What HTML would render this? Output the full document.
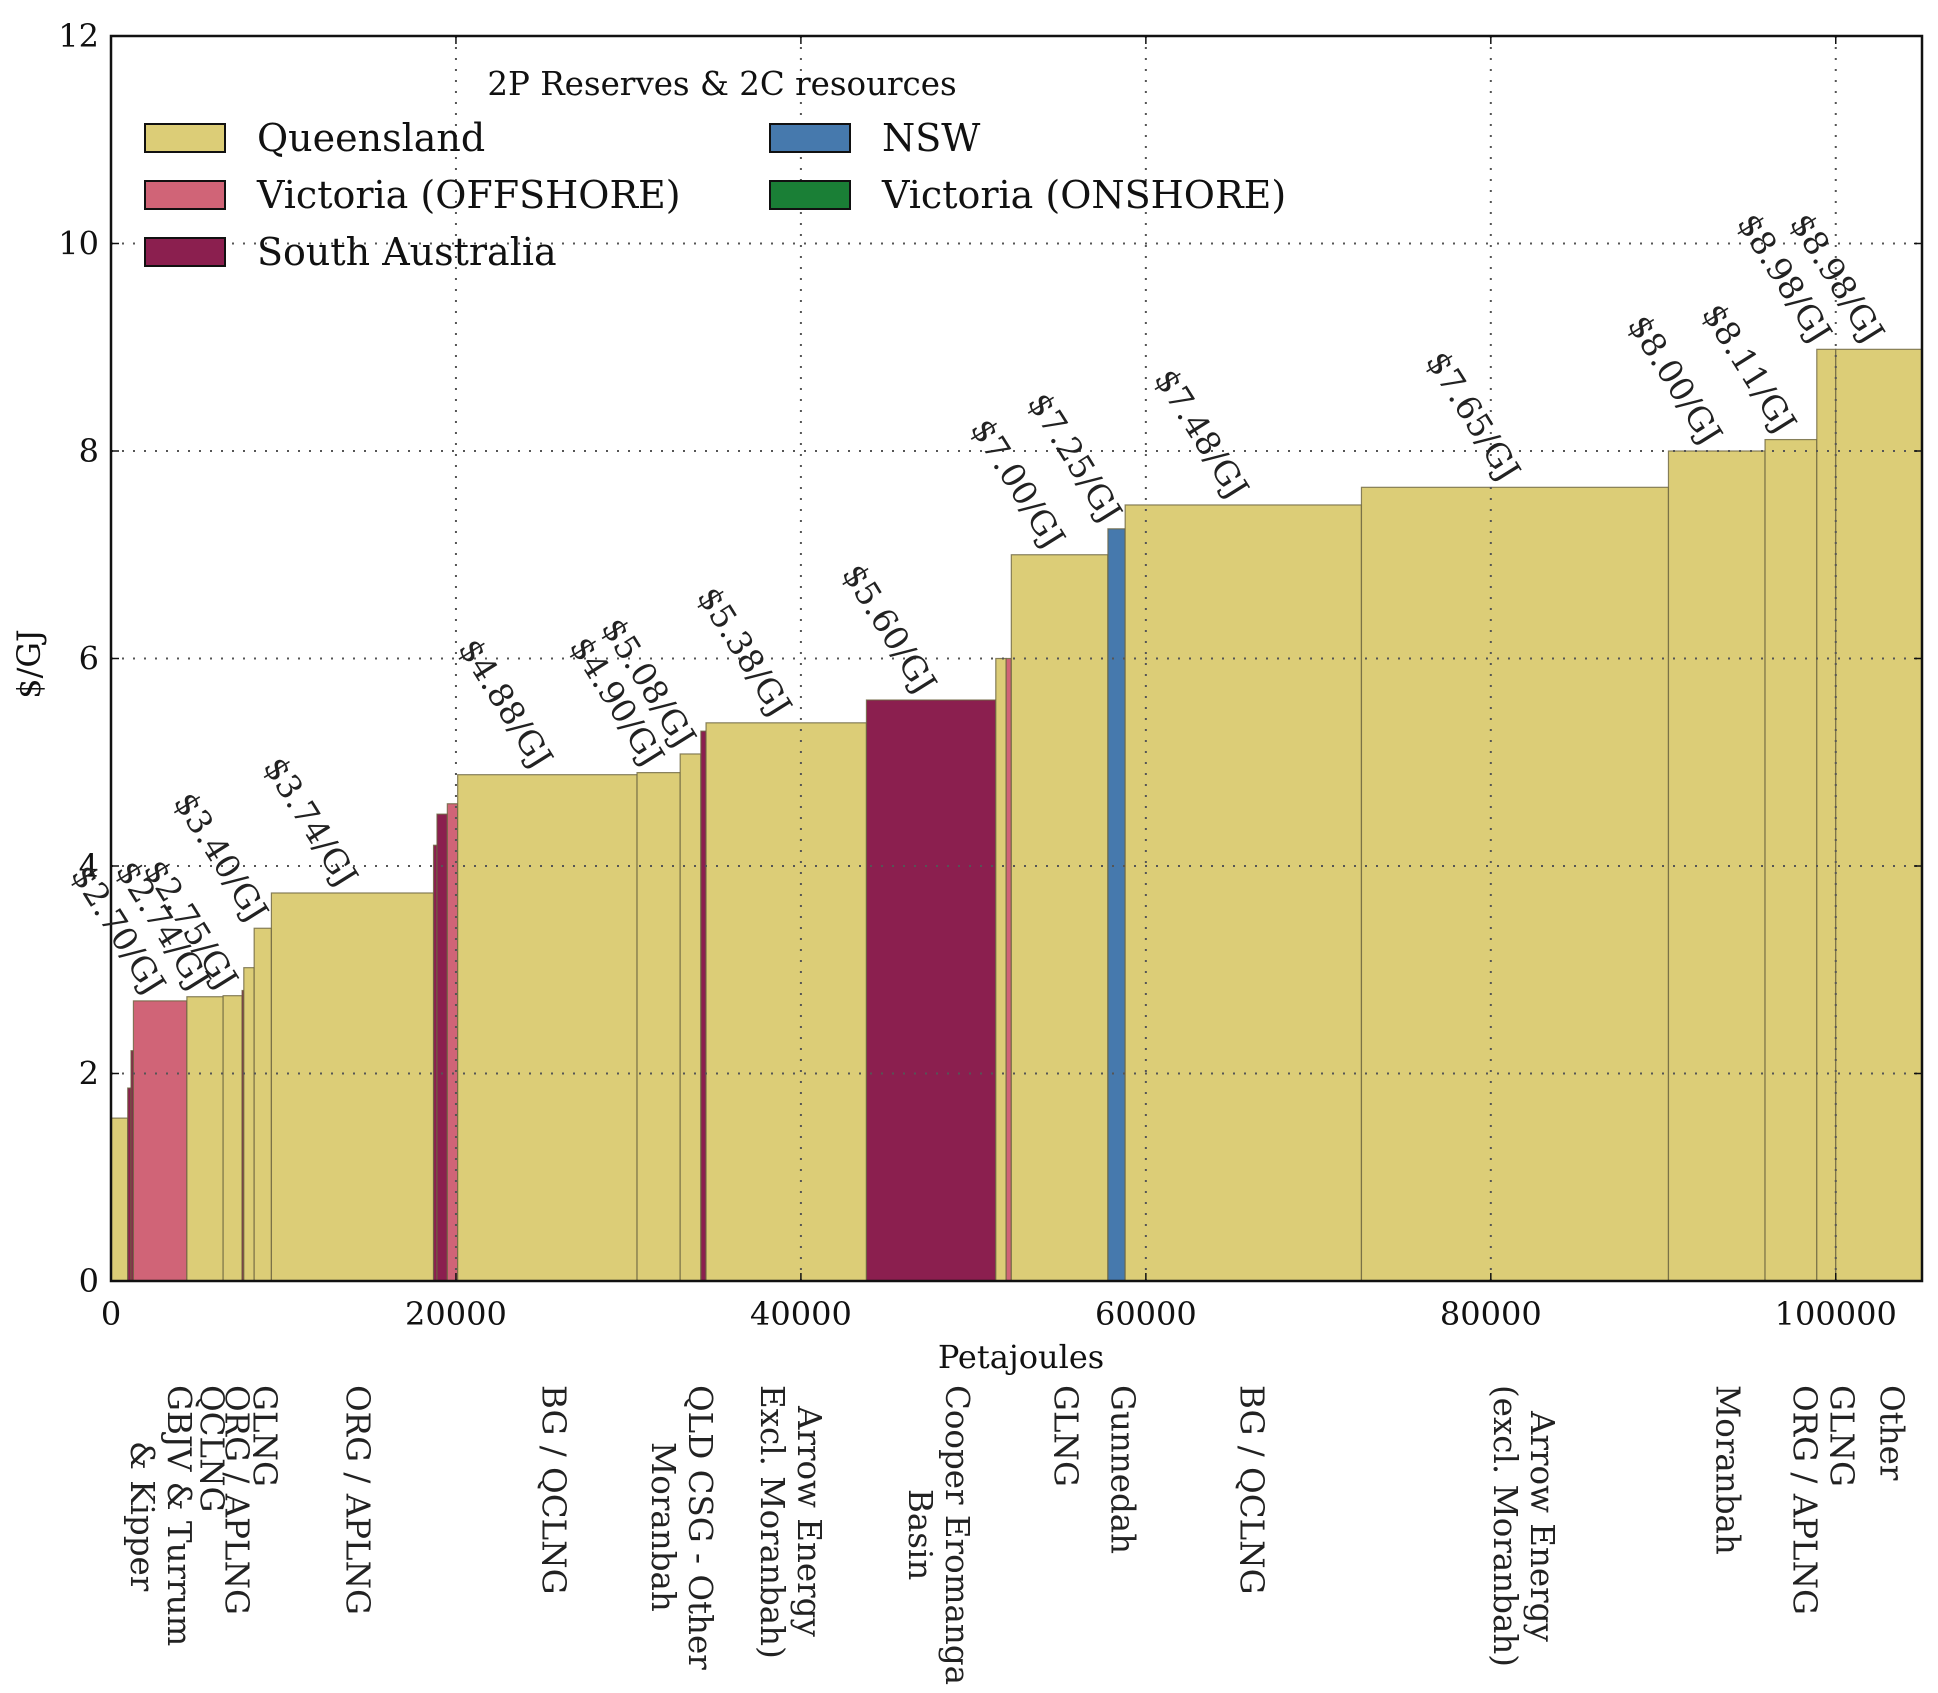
<!DOCTYPE html>
<html><head><meta charset="utf-8"><style>
body{margin:0;background:#fff;}
#wrap{position:relative;width:1938px;height:1693px;overflow:hidden;font-family:"DejaVu Serif","Liberation Serif",serif;}
.bl{position:absolute;top:1385px;writing-mode:vertical-rl;text-align:center;font-size:32.5px;line-height:37px;color:#222;white-space:nowrap;transform:translateX(-50%);}
</style></head><body>
<div id="wrap">
<svg id="svg" width="1938" height="1693" style="position:absolute;left:0;top:0"></svg>
<div class="bl" style="left:160px">GBJV &amp; Turrum<br>&amp; Kipper</div>
<div class="bl" style="left:211px">QCLNG</div>
<div class="bl" style="left:236px">ORG / APLNG</div>
<div class="bl" style="left:264px">GLNG</div>
<div class="bl" style="left:357px">ORG / APLNG</div>
<div class="bl" style="left:553px">BG / QCLNG</div>
<div class="bl" style="left:681px">QLD CSG - Other<br>Moranbah</div>
<div class="bl" style="left:790px">Arrow Energy<br>Excl. Moranbah)</div>
<div class="bl" style="left:938px">Cooper Eromanga<br>Basin</div>
<div class="bl" style="left:1065px">GLNG</div>
<div class="bl" style="left:1122px">Gunnedah</div>
<div class="bl" style="left:1251px">BG / QCLNG</div>
<div class="bl" style="left:1523px">Arrow Energy<br>(excl. Moranbah)</div>
<div class="bl" style="left:1727px">Moranbah</div>
<div class="bl" style="left:1804px">ORG / APLNG</div>
<div class="bl" style="left:1841px">GLNG</div>
<div class="bl" style="left:1891px">Other</div>
</div>
<script>
// bar data: start (PJ), width (PJ), price ($/GJ), region, printed label
const starts = [0,970,1160,1300,4400,6500,7600,7700,8300,9300,18700,18900,19500,20100,30500,33000,34200,34500,43800,51300,51900,52200,57800,58800,72500,90300,95900,98900,100000];
const widths = [970,190,140,3100,2100,1100,100,600,1000,9400,200,600,600,10400,2500,1200,300,9300,7500,600,300,5600,1000,13700,17800,5600,3000,1100,5000];
const prices = [1.57,1.86,2.22,2.70,2.74,2.75,2.80,3.02,3.40,3.74,4.20,4.50,4.60,4.88,4.90,5.08,5.30,5.38,5.60,6.00,6.00,7.00,7.25,7.48,7.65,8.00,8.11,8.98,8.98];
const regions = ['Q','S','S','V','Q','Q','S','Q','Q','Q','S','S','V','Q','Q','Q','S','Q','S','Q','V','Q','N','Q','Q','Q','Q','Q','Q'];
const labels = ['','','','$2.70/GJ','$2.74/GJ','$2.75/GJ','','','$3.40/GJ','$3.74/GJ','','','','$4.88/GJ','$4.90/GJ','$5.08/GJ','','$5.38/GJ','$5.60/GJ','','','$7.00/GJ','$7.25/GJ','$7.48/GJ','$7.65/GJ','$8.00/GJ','$8.11/GJ','$8.98/GJ','$8.98/GJ'];
const xTicks = [0,20000,40000,60000,80000,100000];
const yTicks = [0,2,4,6,8,10,12];
const legendNames = ['Queensland','Victoria (OFFSHORE)','South Australia','NSW','Victoria (ONSHORE)'];

const colors = {Q:'#dccd77',V:'#d06477',S:'#8b1f4f',N:'#4679ad',G:'#1a7f36'};
const L=111,R=1922,T=36,B=1281,XMAX=105000,YMAX=12;
const xs = v => L + v/XMAX*(R-L);
const ys = v => B - v/YMAX*(B-T);
const NS='http://www.w3.org/2000/svg';
const svg=document.getElementById('svg');
function mk(tag,attrs,parent){const e=document.createElementNS(NS,tag);for(const k in attrs)e.setAttribute(k,attrs[k]);(parent||svg).appendChild(e);return e;}

const gb=mk('g',{});


for(let i=0;i<starts.length;i++){
  const x0=xs(starts[i]),x1=xs(starts[i]+widths[i]),y=ys(prices[i]);
  const r=mk('rect',{x:x0,y:y,width:Math.max(x1-x0,1),height:B-y,fill:colors[regions[i]],stroke:'#6b6440','stroke-width':1.2,'stroke-opacity':0.8},gb);
  
  
}
const gg=mk('g',{stroke:'#555','stroke-width':2,'stroke-dasharray':'2 9'});


xTicks.forEach(t=>{if(t>0)mk('line',{x1:xs(t),x2:xs(t),y1:T,y2:B},gg);});
yTicks.forEach(t=>{if(t>0&&t<YMAX)mk('line',{x1:L,x2:R,y1:ys(t),y2:ys(t)},gg);});
const fr=mk('rect',{x:L,y:T,width:R-L,height:B-T,fill:'none',stroke:'#111','stroke-width':2.5});


const gt=mk('g',{'font-family':'DejaVu Serif, Liberation Serif, serif','font-size':32,fill:'#111'});


xTicks.forEach(t=>{
  mk('line',{x1:xs(t),x2:xs(t),y1:B,y2:B-8,stroke:'#111','stroke-width':1.5},gt);
  mk('line',{x1:xs(t),x2:xs(t),y1:T,y2:T+8,stroke:'#111','stroke-width':1.5},gt);
  const tx=mk('text',{x:xs(t),y:B+44,'text-anchor':'middle'},gt);tx.textContent=t;
  
  
});
yTicks.forEach(t=>{
  mk('line',{x1:L,x2:L+8,y1:ys(t),y2:ys(t),stroke:'#111','stroke-width':1.5},gt);
  mk('line',{x1:R,x2:R-8,y1:ys(t),y2:ys(t),stroke:'#111','stroke-width':1.5},gt);
  const tx=mk('text',{x:L-12,y:ys(t)+11,'text-anchor':'end'},gt);tx.textContent=t;
  
  
});
const xt=mk('text',{x:1021,y:1368,'text-anchor':'middle'},gt);xt.textContent='Petajoules';


const yt=mk('text',{x:0,y:0,'text-anchor':'middle',transform:'translate(40,664) rotate(-90)'},gt);yt.textContent='$/GJ';


const gl=mk('g',{'font-family':'DejaVu Serif, Liberation Serif, serif','font-size':33,fill:'#222'});


for(let i=0;i<starts.length;i++){
  if(!labels[i])continue;
  const cx=xs(starts[i]+widths[i]/2)-6,cy=ys(prices[i])-8;
  const tx=mk('text',{x:0,y:0,'text-anchor':'end',transform:`translate(${cx},${cy}) rotate(58) translate(0,8)`},gl);
  tx.textContent=labels[i];
  
  
}
const glg=mk('g',{'font-family':'DejaVu Serif, Liberation Serif, serif',fill:'#111'});


const lt=mk('text',{x:722,y:95,'text-anchor':'middle','font-size':32.5},glg);lt.textContent='2P Reserves & 2C resources';


const legKeys=['Q','V','S','N','G'];
const legPos=[[145,138],[145,195],[145,252],[770,138],[770,195]];
legendNames.forEach((n,i)=>{
  const [x,y]=legPos[i];
  mk('rect',{x:x,y:y-14,width:80,height:28,fill:colors[legKeys[i]],stroke:'#111','stroke-width':2},glg);
  const tx=mk('text',{x:x+112,y:y+13,'font-size':38},glg);tx.textContent=n;
  
  
});
</script>
</body></html>
